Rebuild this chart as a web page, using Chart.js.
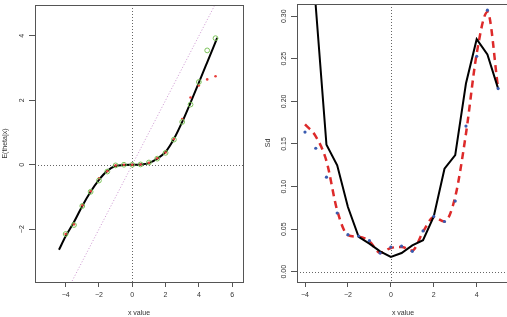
<!DOCTYPE html>
<html>
<head>
<meta charset="utf-8">
<script src="https://cdn.jsdelivr.net/npm/chart.js@4.4.0/dist/chart.umd.min.js"></script>
<style>
  html, body { margin: 0; padding: 0; background: #fff; }
  #wrap { position: relative; width: 507px; height: 317px; overflow: hidden; }
  #leftBox { position: absolute; left: 0; top: 0; }
  #rightBox { position: absolute; left: 253px; top: 0; }
</style>
</head>
<body>
<div id="wrap">
  <div id="leftBox"><canvas id="meanChart" width="253" height="317"></canvas></div>
  <div id="rightBox"><canvas id="sdChart" width="262" height="317"></canvas></div>
</div>
<script>
// x values of the simulated points (both panels)
const gridX = [-4, -3.5, -3, -2.5, -2, -1.5, -1, -0.5, 0, 0.5, 1, 1.5, 2, 2.5, 3, 3.5, 4, 4.5, 5];

// left panel: posterior mean
const curveX = [-4.4, -4, -3.5, -3, -2.5, -2, -1.5, -1, -0.5, 0, 0.5, 1, 1.5, 2, 2.5, 3, 3.5, 4, 4.5, 5.1];
const curveY = [-2.64, -2.22, -1.78, -1.28, -0.84, -0.47, -0.19, -0.04, -0.01, 0, 0.01, 0.05, 0.19, 0.40, 0.80, 1.33, 1.93, 2.55, 3.18, 3.94];
const meanSim = [-2.15, -1.87, -1.28, -0.84, -0.49, -0.21, -0.02, 0, 0, 0.01, 0.07, 0.19, 0.37, 0.78, 1.33, 1.87, 2.57, 3.55, 3.93];
const meanAlt = [-2.15, -1.85, -1.26, -0.82, -0.42, -0.20, -0.02, 0, 0, 0.01, 0.06, 0.20, 0.38, 0.80, 1.42, 2.09, 2.46, 2.65, 2.75];
const identX = [-7, 7];
const identY = [-7, 7];

// right panel: posterior sd
const sdDirect = [0.60, 0.312, 0.149, 0.125, 0.076, 0.041, 0.033, 0.024, 0.0175, 0.022, 0.031, 0.037, 0.065, 0.121, 0.137, 0.221, 0.273, 0.255, 0.215];
const sdSmooth = [0.173, 0.159, 0.130, 0.072, 0.043, 0.041, 0.036, 0.022, 0.028, 0.029, 0.025, 0.047, 0.064, 0.059, 0.088, 0.162, 0.256, 0.305, 0.215];
const sdSim = [0.164, 0.145, 0.111, 0.069, 0.0435, 0.042, 0.0365, 0.022, 0.029, 0.030, 0.024, 0.048, 0.065, 0.059, 0.083, 0.171, 0.253, 0.307, 0.215];

// tick labels
const meanXTicks = [-4, -2, 0, 2, 4, 6];
const meanYTicks = [-2, 0, 2, 4];
const sdXTicks = [-4, -2, 0, 2, 4];
const sdYTicks = [0, 0.05, 0.10, 0.15, 0.20, 0.25, 0.30];

const FONT = "'Liberation Sans', Arial, Helvetica, sans-serif";
const INK = '#333';
const FRAME = '#555';

function pts(xs, ys) {
    return xs.map((x, i) => ({ x: x, y: ys[i] }));
}
function minus(v) {
    return String(v).replace('-', '\u2212');
}

// R-like box, dotted zero lines and rotated y labels
const rStyle = {
    id: 'rStyle',
    beforeDatasetsDraw(chart) {
        const { ctx, chartArea: a, scales: { x, y } } = chart;
        ctx.save();
        ctx.beginPath();
        ctx.rect(a.left, a.top, a.right - a.left, a.bottom - a.top);
        ctx.clip();
        ctx.strokeStyle = '#666';
        ctx.lineWidth = 1;
        ctx.setLineDash([1, 2]);
        const x0 = Math.round(x.getPixelForValue(0)) + 0.5;
        const y0 = Math.round(y.getPixelForValue(0)) + 0.5;
        ctx.beginPath();
        ctx.moveTo(x0, a.top);
        ctx.lineTo(x0, a.bottom);
        ctx.moveTo(a.left, y0);
        ctx.lineTo(a.right, y0);
        ctx.stroke();
        ctx.restore();
    },
    afterDraw(chart, args, opts) {
        const { ctx, chartArea: a, scales: { y } } = chart;
        ctx.save();
        ctx.strokeStyle = FRAME;
        ctx.lineWidth = 1;
        ctx.strokeRect(Math.round(a.left) + 0.5, Math.round(a.top) + 0.5,
            Math.round(a.right - a.left), Math.round(a.bottom - a.top));
        ctx.fillStyle = INK;
        ctx.font = '7px ' + FONT;
        ctx.textAlign = 'center';
        ctx.textBaseline = 'middle';
        y.ticks.forEach(t => {
            ctx.save();
            ctx.translate(a.left - 13, y.getPixelForValue(t.value));
            ctx.rotate(-Math.PI / 2);
            ctx.fillText(opts.fmt(t.value), 0, 0);
            ctx.restore();
        });
        ctx.restore();
    }
};

function axes(o) {
    return {
        x: {
            type: 'linear',
            min: o.xmin, max: o.xmax,
            afterBuildTicks: s => { s.ticks = o.xticks.map(v => ({ value: v })); },
            afterFit: s => { s.height = 35; },
            grid: { drawOnChartArea: false, tickLength: 5, color: FRAME },
            border: { display: false },
            ticks: { padding: 4, color: INK, font: { family: FONT, size: 7 }, callback: v => minus(v) },
            title: { display: true, text: 'x value', color: INK, font: { family: FONT, size: 7 }, padding: 0 }
        },
        y: {
            type: 'linear',
            min: o.ymin, max: o.ymax,
            afterBuildTicks: s => { s.ticks = o.yticks.map(v => ({ value: v })); },
            afterFit: s => { s.width = o.yw; },
            grid: { drawOnChartArea: false, tickLength: 6, color: FRAME },
            border: { display: false },
            ticks: { display: false },
            title: { display: true, text: o.ytitle, color: INK, font: { family: FONT, size: 7 }, padding: { top: o.tpad, bottom: 0 } }
        }
    };
}

const common = {
    responsive: false,
    animation: false,
    events: [],
    plugins: { legend: { display: false }, tooltip: { enabled: false } }
};

// Left panel
new Chart(document.getElementById('meanChart'), {
    type: 'scatter',
    data: {
        datasets: [
            { data: pts(gridX, meanSim), pointRadius: 2.4, pointBorderWidth: 1, pointBorderColor: '#7cc35a', pointBackgroundColor: 'rgba(0,0,0,0)' },
            { data: pts(gridX, meanAlt), pointRadius: 1.3, pointBorderWidth: 0, pointBackgroundColor: '#e8403c' },
            { data: pts(curveX, curveY), showLine: true, pointRadius: 0, borderColor: '#000', borderWidth: 2, cubicInterpolationMode: 'monotone' },
            { data: pts(identX, identY), showLine: true, pointRadius: 0, borderColor: 'rgba(195,130,200,0.85)', borderWidth: 1, borderDash: [1, 2] }
        ]
    },
    options: Object.assign({}, common, {
        layout: { padding: { top: 1, right: 10, left: 0, bottom: 0 } },
        scales: axes({ xmin: -5.84, xmax: 6.65, ymin: -3.64, ymax: 4.96, xticks: meanXTicks, yticks: meanYTicks, yw: 35, ytitle: 'E(theta|x)', tpad: 1 }),
        plugins: Object.assign({}, common.plugins, { rStyle: { fmt: v => minus(v) } })
    }),
    plugins: [rStyle]
});

// Right panel
new Chart(document.getElementById('sdChart'), {
    type: 'scatter',
    data: {
        datasets: [
            { data: pts(gridX, sdSim), pointRadius: 1.6, pointBorderWidth: 0, pointBackgroundColor: '#3a5bb0' },
            { data: pts(gridX, sdDirect), showLine: true, pointRadius: 0, borderColor: '#000', borderWidth: 2 },
            { data: pts(gridX, sdSmooth), showLine: true, pointRadius: 0, borderColor: '#dd2a2a', borderWidth: 2.5, borderDash: [7, 5], cubicInterpolationMode: 'monotone' }
        ]
    },
    options: Object.assign({}, common, {
        layout: { padding: { top: 1, right: 6, left: 0, bottom: 0 } },
        scales: axes({ xmin: -4.373, xmax: 5.506, ymin: -0.012, ymax: 0.3143, xticks: sdXTicks, yticks: sdYTicks, yw: 44, ytitle: 'Sd', tpad: 11 }),
        plugins: Object.assign({}, common.plugins, { rStyle: { fmt: v => v.toFixed(2) } })
    }),
    plugins: [rStyle]
});
</script>
</body>
</html>
